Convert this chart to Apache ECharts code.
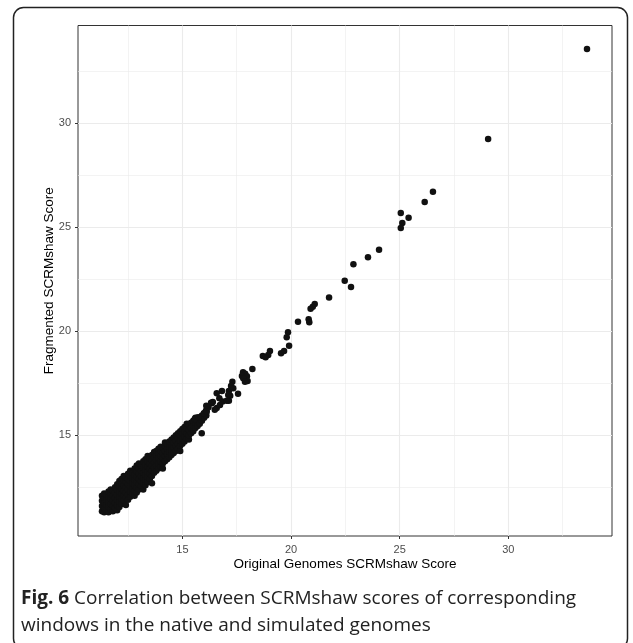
<!DOCTYPE html>
<html lang="en">
<head>
<meta charset="UTF-8">
<title>SCRMshaw scores</title>
<script src="https://cdn.jsdelivr.net/npm/echarts@6.0.0/dist/echarts.min.js"></script>
<style>
  html, body { margin: 0; padding: 0; background: #fff; }
  #main { width: 633px; height: 643px; }
</style>
</head>
<body>
<div id="main"></div>
<script>
// windows above ~16, read one by one
var sparseWindows = [
  [33.62, 33.57], [29.07, 29.24], [26.53, 26.71], [26.15, 26.22], [25.05, 25.69],
  [25.41, 25.46], [25.12, 25.21], [25.05, 24.97], [24.05, 23.92], [23.54, 23.56],
  [22.87, 23.22], [22.47, 22.43], [22.76, 22.13], [21.75, 21.63], [21.09, 21.31],
  [21.0, 21.18], [20.9, 21.09], [20.32, 20.46], [20.81, 20.58], [20.84, 20.43],
  [19.86, 19.95], [19.80, 19.71], [19.91, 19.31], [19.54, 18.94], [19.68, 19.05],
  [19.03, 19.05], [18.95, 18.86], [18.70, 18.81], [18.83, 18.75], [18.22, 18.19],
  [17.79, 18.03], [17.89, 17.96], [17.74, 17.85], [17.97, 17.84], [17.80, 17.74],
  [18.00, 17.61], [17.30, 17.58], [17.24, 17.37], [16.82, 17.13], [17.14, 17.13],
  [17.56, 17.0], [17.20, 16.90], [16.70, 16.78], [16.85, 16.63], [17.14, 16.66],
  [16.32, 16.57], [16.58, 16.31], [16.49, 16.23], [16.07, 16.15], [15.99, 16.06],
  [15.72, 15.87], [15.57, 15.78], [17.04, 16.66], [16.73, 16.46], [16.58, 17.02],
  [16.35, 16.54], [16.12, 16.13], [17.11, 16.94], [17.34, 17.26], [17.88, 17.58],
  [16.2, 16.35], [16.4, 16.6], [16.1, 16.42], [15.89, 15.1]
];

// the dense band between 11 and 16
var clusterWindows = [
  [11.3, 11.35], [11.3, 11.6], [11.3, 11.85], [11.3, 12.1],
  [11.4, 11.3], [11.4, 11.5], [11.4, 11.75], [11.4, 12.0], [11.4, 12.2],
  [11.5, 11.4], [11.5, 11.65], [11.5, 11.9], [11.5, 12.15],
  [11.6, 11.3], [11.6, 11.55], [11.6, 11.8], [11.6, 12.05], [11.6, 12.3],
  [11.7, 11.45], [11.7, 11.7], [11.7, 11.95], [11.7, 12.2], [11.7, 12.4],
  [11.8, 11.35], [11.8, 11.6], [11.8, 11.85], [11.8, 12.1], [11.8, 12.35],
  [11.9, 11.5], [11.9, 11.75], [11.9, 12.0], [11.9, 12.25], [11.9, 12.5],
  [12.0, 11.4], [12.0, 11.65], [12.0, 11.9], [12.0, 12.15], [12.0, 12.4], [12.0, 12.65],
  [12.1, 11.55], [12.1, 11.8], [12.1, 12.05], [12.1, 12.3], [12.1, 12.55], [12.1, 12.8],
  [12.2, 11.7], [12.2, 11.95], [12.2, 12.2], [12.2, 12.45], [12.2, 12.7], [12.2, 12.9],
  [12.3, 11.85], [12.3, 12.1], [12.3, 12.35], [12.3, 12.6], [12.3, 12.85], [12.3, 13.05],
  [12.4, 11.65], [12.4, 12.0], [12.4, 12.25], [12.4, 12.5], [12.4, 12.75], [12.4, 13.0],
  [12.5, 11.9], [12.5, 12.15], [12.5, 12.4], [12.5, 12.65], [12.5, 12.9], [12.5, 13.15],
  [12.6, 12.05], [12.6, 12.3], [12.6, 12.55], [12.6, 12.8], [12.6, 13.05], [12.6, 13.3],
  [12.7, 12.2], [12.7, 12.45], [12.7, 12.7], [12.7, 12.95], [12.7, 13.2],
  [12.8, 12.1], [12.8, 12.35], [12.8, 12.6], [12.8, 12.85], [12.8, 13.1], [12.8, 13.4],
  [12.9, 12.25], [12.9, 12.5], [12.9, 12.75], [12.9, 13.0], [12.9, 13.25], [12.9, 13.55],
  [13.0, 12.4], [13.0, 12.65], [13.0, 12.9], [13.0, 13.15], [13.0, 13.4], [13.0, 13.65],
  [13.1, 12.55], [13.1, 12.8], [13.1, 13.05], [13.1, 13.3], [13.1, 13.55],
  [13.2, 12.4], [13.2, 12.7], [13.2, 12.95], [13.2, 13.2], [13.2, 13.45], [13.2, 13.75],
  [13.3, 12.6], [13.3, 12.85], [13.3, 13.1], [13.3, 13.35], [13.3, 13.6], [13.3, 13.85],
  [13.4, 12.75], [13.4, 13.0], [13.4, 13.25], [13.4, 13.5], [13.4, 13.75], [13.4, 14.0],
  [13.5, 12.9], [13.5, 13.15], [13.5, 13.4], [13.5, 13.65], [13.5, 13.9],
  [13.6, 12.7], [13.6, 13.05], [13.6, 13.3], [13.6, 13.55], [13.6, 13.8], [13.6, 14.05],
  [13.7, 13.2], [13.7, 13.45], [13.7, 13.7], [13.7, 13.95], [13.7, 14.2],
  [13.8, 13.3], [13.8, 13.55], [13.8, 13.8], [13.8, 14.05], [13.8, 14.25],
  [13.9, 13.4], [13.9, 13.65], [13.9, 13.9], [13.9, 14.15], [13.9, 14.35],
  [14.0, 13.5], [14.0, 13.75], [14.0, 14.0], [14.0, 14.25], [14.0, 14.45],
  [14.1, 13.4], [14.1, 13.65], [14.1, 13.9], [14.1, 14.15], [14.1, 14.4],
  [14.2, 13.75], [14.2, 14.0], [14.2, 14.25], [14.2, 14.5], [14.2, 14.65],
  [14.3, 13.85], [14.3, 14.1], [14.3, 14.35], [14.3, 14.6],
  [14.4, 13.95], [14.4, 14.2], [14.4, 14.45], [14.4, 14.7],
  [14.5, 14.05], [14.5, 14.3], [14.5, 14.55], [14.5, 14.8],
  [14.6, 14.15], [14.6, 14.4], [14.6, 14.65], [14.6, 14.9],
  [14.7, 14.25], [14.7, 14.5], [14.7, 14.75], [14.7, 15.0],
  [14.8, 14.35], [14.8, 14.6], [14.8, 14.85], [14.8, 15.1],
  [14.9, 14.25], [14.9, 14.5], [14.9, 14.75], [14.9, 15.0], [14.9, 15.2],
  [15.0, 14.6], [15.0, 14.85], [15.0, 15.1], [15.0, 15.3],
  [15.1, 14.7], [15.1, 14.95], [15.1, 15.2], [15.1, 15.4],
  [15.2, 14.85], [15.2, 15.1], [15.2, 15.35], [15.2, 15.55],
  [15.3, 14.8], [15.3, 15.0], [15.3, 15.25], [15.3, 15.5],
  [15.4, 15.1], [15.4, 15.35], [15.4, 15.6],
  [15.5, 15.2], [15.5, 15.45], [15.5, 15.7],
  [15.6, 15.35], [15.6, 15.6], [15.6, 15.85],
  [15.7, 15.45], [15.7, 15.75],
  [15.8, 15.55], [15.8, 15.85],
  [15.9, 15.7], [15.9, 15.95],
  [16.0, 15.85], [16.0, 16.05],
  [16.1, 15.95], [16.1, 16.2]
];

var tickValues = [15, 20, 25, 30];
var majorGrid = [15, 20, 25, 30];
var minorGrid = [12.5, 17.5, 22.5, 27.5, 32.5];

var chart = echarts.init(document.getElementById('main'));

// grid lines as markLines so they stay inside the panel
var gridLines = [];
minorGrid.forEach(function (v) {
  gridLines.push({ xAxis: v, lineStyle: { width: 0.6 } });
  gridLines.push({ yAxis: v, lineStyle: { width: 0.6 } });
});
majorGrid.forEach(function (v) {
  gridLines.push({ xAxis: v, lineStyle: { width: 1.1 } });
  gridLines.push({ yAxis: v, lineStyle: { width: 1.1 } });
});

var axisFont = 'Liberation Sans, Arial, sans-serif';

var option = {
  animation: false,
  backgroundColor: '#fff',
  grid: {
    left: 78, top: 25.5, width: 534, height: 510.5,
    show: true, borderColor: '#333333', borderWidth: 1, backgroundColor: '#fff'
  },
  xAxis: {
    type: 'value',
    min: 10.196, max: 34.77,
    name: 'Original Genomes SCRMshaw Score',
    nameLocation: 'middle',
    nameGap: 21,
    nameMoveOverlap: false,
    nameTextStyle: { color: '#000', fontSize: 13.5, fontFamily: axisFont },
    axisLine: { show: false },
    axisTick: { show: true, length: 3, customValues: tickValues, lineStyle: { color: '#333333' } },
    axisLabel: { customValues: tickValues, color: '#4d4d4d', fontSize: 11, fontFamily: axisFont, margin: 8 },
    splitLine: { show: false }
  },
  yAxis: {
    type: 'value',
    min: 10.16, max: 34.70,
    name: 'Fragmented SCRMshaw Score',
    nameLocation: 'middle',
    nameGap: 22,
    nameMoveOverlap: false,
    nameTextStyle: { color: '#000', fontSize: 13.5, fontFamily: axisFont },
    axisLine: { show: false },
    axisTick: { show: true, length: 3, customValues: tickValues, lineStyle: { color: '#333333' } },
    axisLabel: { customValues: tickValues, color: '#4d4d4d', fontSize: 11, fontFamily: axisFont, margin: 7 },
    splitLine: { show: false }
  },
  series: [
    {
      type: 'scatter',
      z: 3,
      symbolSize: 6.5,
      itemStyle: { color: '#111111', opacity: 1 },
      data: clusterWindows.concat(sparseWindows),
      markLine: {
        z: 1,
        silent: true,
        symbol: ['none', 'none'],
        label: { show: false },
        lineStyle: { color: '#ebebeb', type: 'solid' },
        data: gridLines
      }
    }
  ],
  graphic: [
    {
      type: 'rect',
      shape: { x: 13.5, y: 7.5, width: 614, height: 641, r: 10 },
      style: { fill: 'none', stroke: '#222', lineWidth: 1.5 },
      silent: true
    },
    {
      type: 'text',
      left: 21, top: 585,
      style: {
        text: '{b|Fig. 6} Correlation between SCRMshaw scores of corresponding\nwindows in the native and simulated genomes',
        fontFamily: 'Open Sans, sans-serif',
        fontSize: 19,
        lineHeight: 27,
        fill: '#222',
        rich: {
          b: { fontWeight: 'bold', fontFamily: 'Open Sans, sans-serif', fontSize: 19, fill: '#222' }
        }
      }
    }
  ]
};

chart.setOption(option);
</script>
</body>
</html>
